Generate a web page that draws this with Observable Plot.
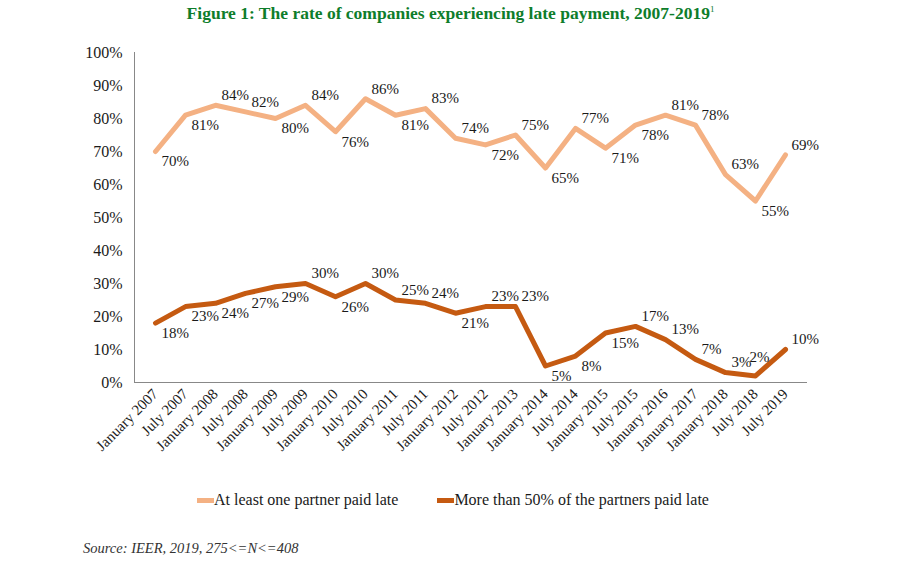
<!DOCTYPE html>
<html><head><meta charset="utf-8">
<script src="https://cdn.jsdelivr.net/npm/d3@7"></script>
<script src="https://cdn.jsdelivr.net/npm/@observablehq/plot@0.6"></script>
<style>
body{margin:0;background:#fff;font-family:"Liberation Serif","DejaVu Serif",serif;}
#wrap{width:901px;height:575px;position:relative;overflow:hidden;}
#title{position:absolute;top:3px;left:0;width:901px;text-align:center;color:#0e7d2b;font-weight:bold;font-size:17.5px;}
#title sup{font-size:9px;font-weight:normal;}
#chart{position:absolute;top:30px;left:0;}
#legend{position:absolute;top:491px;left:197px;display:flex;align-items:center;font-size:16px;color:#1a1a1a;}
.sw{display:inline-block;width:17px;height:5px;}
.item{display:flex;align-items:center;margin-right:39px;}
#source{position:absolute;top:540px;left:83px;font-style:italic;font-size:14.5px;color:#333;}
</style>
</head><body>
<div id="wrap">
  <div id="title">Figure 1: The rate of companies experiencing late payment, 2007-2019<sup>1</sup></div>
  <div id="chart"></div>
  <div id="legend"></div>
  <div id="source">Source: IEER, 2019, 275&lt;=N&lt;=408</div>
</div>
<script>
const periods = ["January 2007","July 2007","January 2008","July 2008","January 2009","July 2009",
  "January 2010","July 2010","January 2011","July 2011","January 2012","July 2012","January 2013",
  "January 2014","July 2014","January 2015","July 2015","January 2016","January 2017","January 2018",
  "July 2018","July 2019"];
const atLeastOne = [70,81,84,82,80,84,76,86,81,83,74,72,75,65,77,71,78,81,78,63,55,69];
const moreThanHalf = [18,23,24,27,29,30,26,30,25,24,21,23,23,5,8,15,17,13,7,3,2,10];
const seriesNames = ["At least one partner paid late","More than 50% of the partners paid late"];
const yTicks = [0,10,20,30,40,50,60,70,80,90,100];

const colors = ["#f4b183","#c55a11"];

// label placement rule: above-right when the line descends to the next point, below-right when it rises;
// near-zero points that rise afterwards get their label lifted straight above
function build(values, name) {
  return values.map((v, i) => {
    const next = i < values.length - 1 ? values[i+1] : -Infinity;
    const pos = next <= v ? "above" : (v < 5 ? "top" : "below");
    return {period: periods[i], value: v, series: name, pos};
  });
}
const rows = [...build(atLeastOne, seriesNames[0]), ...build(moreThanHalf, seriesNames[1])];
const lbl = d => d.value + "%";

const chart = Plot.plot({
  width: 901,
  height: 452,
  marginLeft: 134,
  marginRight: 95,
  marginTop: 22,
  marginBottom: 100,
  style: {fontFamily: "Liberation Serif, DejaVu Serif, serif", fontSize: "15px", color: "#1a1a1a", background: "#fff"},
  x: {type: "point", domain: periods, padding: 0.5},
  y: {domain: [0, 100]},
  color: {domain: seriesNames, range: colors},
  marks: [
    Plot.frame({anchor: "left", stroke: "#888"}),
    Plot.frame({anchor: "bottom", stroke: "#888"}),
    Plot.axisY({ticks: yTicks, tickFormat: d => d + "%", tickSize: 0, tickPadding: 12, label: null, fontSize: 16}),
    Plot.axisX({tickRotate: -45, tickSize: 0, tickPadding: 9, label: null, fontSize: 15}),
    Plot.line(rows, {x: "period", y: "value", z: "series", stroke: "series", strokeWidth: 5, strokeLinejoin: "round"}),
    Plot.text(rows.filter(d => d.pos === "above"), {x: "period", y: "value", text: lbl, textAnchor: "start", dx: 6, dy: -10, fill: "#1a1a1a", fontSize: 15}),
    Plot.text(rows.filter(d => d.pos === "below"), {x: "period", y: "value", text: lbl, textAnchor: "start", dx: 6, dy: 10, fill: "#1a1a1a", fontSize: 15}),
    Plot.text(rows.filter(d => d.pos === "top"), {x: "period", y: "value", text: lbl, textAnchor: "middle", dx: 4, dy: -19, fill: "#1a1a1a", fontSize: 15})
  ]
});
document.getElementById("chart").appendChild(chart);

const legend = document.getElementById("legend");
seriesNames.forEach((n, i) => {
  const it = document.createElement("div");
  it.className = "item";
  const sw = document.createElement("span");
  sw.className = "sw";
  sw.style.background = colors[i];
  const t = document.createElement("span");
  t.textContent = n;
  it.appendChild(sw); it.appendChild(t);
  legend.appendChild(it);
});
</script>
</body></html>
